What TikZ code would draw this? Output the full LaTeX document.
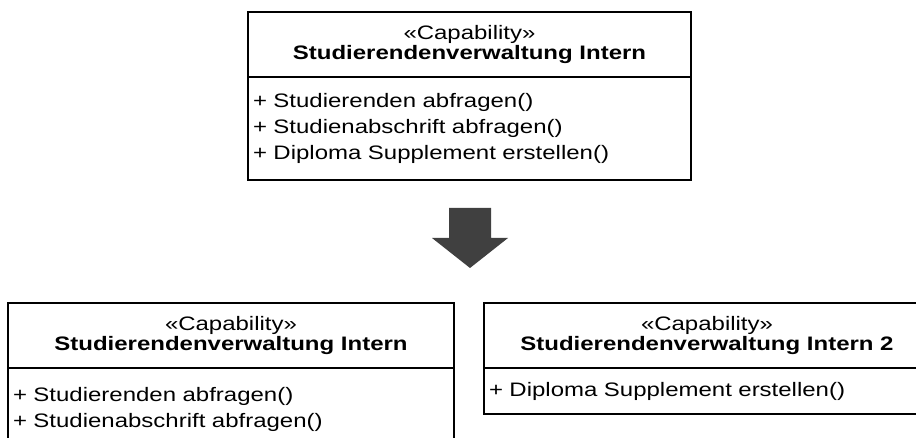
\documentclass[tikz,border=0pt]{standalone}
\usepackage{fontspec}
\setmainfont{Liberation Sans}[FakeStretch=1.23]
\usetikzlibrary{positioning}
\definecolor{arrowgray}{HTML}{404040}

\begin{document}
\begin{tikzpicture}[x=1pt, y=1pt,
  every node/.style={inner xsep=5pt, inner ysep=0pt, outer sep=0pt, line width=1.6pt},
  headbox/.style={draw, minimum width=#1, minimum height=65pt, align=center,
    font=\fontsize{19.5}{20}\selectfont},
  bodybox/.style={draw, text width=#1, align=left,
    font=\fontsize{19.5}{26}\selectfont}]
  \useasboundingbox (0,0) rectangle (916,437);
  \clip (0,0) rectangle (916,437);
  % capability before the split
  \node[headbox=443, anchor=north west] (capTop) at (248,425)
    {«Capability»\\\textbf{Studierendenverwaltung Intern}};
  \node[bodybox=433, minimum width=443, minimum height=103, below=0pt of capTop] (opsTop)
    {+ Studierenden abfragen()\\+ Studienabschrift abfragen()\\+ Diploma Supplement erstellen()};
  % block arrow
  \coordinate (shaftL) at (449,229);
  \coordinate (shaftR) at (491,229);
  \coordinate (tip) at (470,169);
  \fill[arrowgray] (shaftL) -- (shaftR) -- (491,199) -- (508,199) -- (tip)
    -- (432,199) -- (449,199) -- cycle;
  % capabilities after the split
  \node[headbox=446, anchor=north west] (capLeft) at (8,134)
    {«Capability»\\\textbf{Studierendenverwaltung Intern}};
  \node[bodybox=436, minimum width=446, minimum height=83, below=0pt of capLeft] (opsLeft)
    {+ Studierenden abfragen()\\+ Studienabschrift abfragen()};
  \node[headbox=446, anchor=north west] (capRight) at (484,134)
    {«Capability»\\\textbf{Studierendenverwaltung Intern 2}};
  \node[bodybox=436, minimum width=446, minimum height=46, below=0pt of capRight] (opsRight)
    {+ Diploma Supplement erstellen()};
\end{tikzpicture}
\end{document}
